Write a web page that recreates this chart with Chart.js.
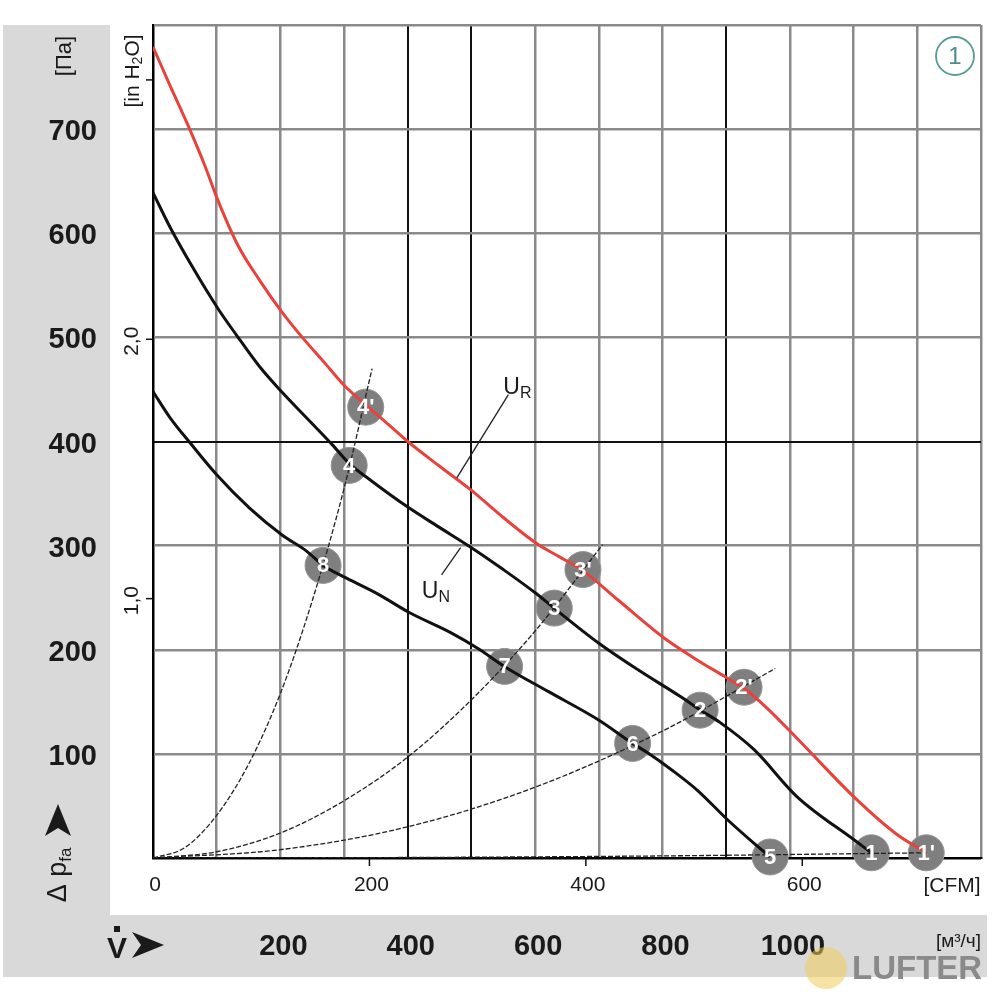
<!DOCTYPE html>
<html><head><meta charset="utf-8">
<script src="https://cdn.jsdelivr.net/npm/chart.js@4.4.1/dist/chart.umd.min.js"></script>
<style>html,body{margin:0;padding:0;background:#fff;}canvas{display:block;}</style>
</head><body>
<canvas id="c" width="1000" height="1000"></canvas>
<script>
// ---- Data (flow in m³/h, pressure in Pa) ----
const urQ = [0, 26.6, 54.7, 81.3, 101.6, 132.8, 167.2, 201.6, 234.4, 268.8, 300, 334.4, 370.3, 400, 448.4, 500, 550, 604.7, 639, 675, 729.7, 803, 854.7, 898.4, 929.7, 964, 1011, 1105, 1167, 1214];
const urP = [779, 742, 704, 665, 632, 589, 555, 525, 500, 476, 454, 435, 416, 400, 377, 353, 327, 301, 289, 276, 248, 211, 190, 174, 162, 144, 115, 56, 23, 5];

const unQ = [0, 26.6, 62.5, 101.6, 131.3, 167.2, 203.1, 240.6, 281.3, 307.8, 339, 400, 448.4, 500, 550, 601.6, 629.7, 698.4, 760.9, 828.1, 859.4, 890.6, 943.8, 1010.9, 1101.6, 1128];
const unP = [639, 606, 567, 528, 502, 472, 447, 423, 397, 379, 364, 337, 318, 298, 277, 254, 240, 207, 181, 155, 142, 130, 104, 59, 17, 5];

const lowQ = [0, 26.6, 57.8, 100, 151.6, 203.1, 240.6, 267.2, 303.1, 354.7, 401.6, 468.8, 510.9, 551.6, 620.3, 698.4, 753.1, 776.6, 815.6, 854.7, 901.6, 943.8, 968.8];
const lowP = [448, 423, 399, 368, 336, 310, 295, 281, 269, 253, 236, 216, 201, 184, 160, 133, 110, 101, 84, 65, 37, 14, 1];

// system (resistance) curves
const sysAQ = [0, 50, 100, 150, 200, 250, 300, 344];
const sysAP = [0, 10, 41, 90, 158, 247, 355, 470];
const sysBQ = [0, 100, 200, 300, 400, 500, 600, 706];
const sysBP = [0, 6, 24, 55, 97, 152, 218, 301];
const sysCQ = [0, 200, 400, 600, 800, 977];
const sysCP = [0, 8, 30, 68, 122, 182];
const sysDQ = [0, 400, 800, 1214];
const sysDP = [0, 0.5, 2, 5];

// operating point markers
const markerLabels = ["4'", "3'", "2'", "1'", "4", "3", "2", "1", "8", "7", "6", "5"];
const markerQ = [334, 675, 928, 1214, 308, 630, 859, 1128, 267, 552, 753, 969];
const markerP = [433, 277, 164, 5, 377, 240, 142, 5, 281, 184, 110, 1];

// curve name leader lines
const leaderURQ = [558, 477];
const leaderURP = [445, 365];
const leaderUNQ = [453, 483];
const leaderUNP = [272, 298];

// tick labels
const paTicks = [100, 200, 300, 400, 500, 600, 700];
const inH2OTicks = [1, 2, 3];
const inH2OLabels = ["1,0", "2,0", ""];
const cfmTicks = [0, 200, 400, 600];
const m3hTicks = [200, 400, 600, 800, 1000];

const PA_PER_INH2O = 249.09;
const M3H_PER_CFM = 1.699;

const xy = (qs, ps) => qs.map((q, i) => ({x: q, y: ps[i]}));

const NARROW = '"Liberation Sans Narrow", "Liberation Sans", Arial, sans-serif';
const SANS = '"Liberation Sans", Arial, sans-serif';

function rotText(c, parts, x, y) {
  c.save();
  c.translate(x, y);
  c.rotate(-Math.PI / 2);
  let total = 0;
  parts.forEach(p => { c.font = p.font; p.w = c.measureText(p.t).width; total += p.w; });
  let cx = -total / 2;
  c.textBaseline = 'middle';
  c.textAlign = 'left';
  parts.forEach(p => { c.font = p.font; c.fillText(p.t, cx, p.dy || 0); cx += p.w; });
  c.restore();
}

const deco = {
  id: 'deco',
  beforeDraw(chart) {
    const c = chart.ctx;
    c.save();
    c.fillStyle = '#ffffff';
    c.fillRect(0, 0, 1000, 1000);
    c.fillStyle = '#d9d9d9';
    c.fillRect(3, 25, 107, 952);
    c.fillRect(3, 915, 984, 62);
    c.restore();
  },
  afterDraw(chart) {
    const c = chart.ctx;
    const xs = chart.scales.x, ys = chart.scales.y;
    c.save();
    c.fillStyle = '#1a1a1a';
    c.strokeStyle = '#111';

    // Pa labels
    c.font = 'bold 29px ' + SANS;
    c.textAlign = 'right';
    c.textBaseline = 'middle';
    paTicks.forEach(v => c.fillText(String(v), 97, ys.getPixelForValue(v) + 3));

    // [Па]
    rotText(c, [{t: '[Па]', font: '22px ' + SANS}], 65, 56);

    // [in H2O]
    rotText(c, [{t: '[in H', font: '21px ' + NARROW}, {t: '2', font: '14px ' + NARROW, dy: 5}, {t: 'O]', font: '21px ' + NARROW}], 133, 71);

    // in H2O ticks
    c.lineWidth = 1.5;
    inH2OTicks.forEach((v, i) => {
      const py = ys.getPixelForValue(v * PA_PER_INH2O);
      c.beginPath(); c.moveTo(146, py); c.lineTo(153, py); c.stroke();
      if (inH2OLabels[i]) rotText(c, [{t: inH2OLabels[i], font: '21px ' + NARROW}], 132, py + 2);
    });

    // Δ p_fa arrow label
    c.fillStyle = '#1a1a1a';
    rotText(c, [{t: 'Δ ', font: '27px ' + SANS}, {t: 'p', font: '27px ' + SANS}, {t: 'fa', font: '17px ' + SANS, dy: 7}], 59, 875);
    c.beginPath();
    c.moveTo(58, 804); c.lineTo(71, 836); c.lineTo(58, 828); c.lineTo(45, 836); c.closePath(); c.fill();

    // V dot arrow
    c.font = 'bold 30px ' + NARROW;
    c.textAlign = 'center';
    c.textBaseline = 'alphabetic';
    c.fillText('V', 117, 958);
    c.fillRect(114, 926, 6, 6);
    c.beginPath();
    c.moveTo(164, 945); c.lineTo(132, 932); c.lineTo(141, 945); c.lineTo(132, 958); c.closePath(); c.fill();

    // m³/h labels
    c.font = 'bold 29px ' + SANS;
    c.textAlign = 'center';
    c.textBaseline = 'middle';
    m3hTicks.forEach(v => c.fillText(String(v), xs.getPixelForValue(v) + 3, 947));
    c.font = '19px ' + NARROW;
    c.textAlign = 'right';
    c.fillText('[м³/ч]', 981, 942);

    // CFM ticks/labels
    c.font = '21px ' + NARROW;
    c.textAlign = 'center';
    c.lineWidth = 1.5;
    cfmTicks.forEach(v => {
      const px = xs.getPixelForValue(v * M3H_PER_CFM);
      if (v > 0) { c.beginPath(); c.moveTo(px, 858); c.lineTo(px, 866); c.stroke(); }
      c.fillText(String(v), px + 2, 885);
    });
    c.fillText('[CFM]', 952, 886);

    // UR / UN labels
    const lbl = (main, sub, q, p) => {
      const px = xs.getPixelForValue(q), py = ys.getPixelForValue(p);
      c.textAlign = 'left'; c.textBaseline = 'alphabetic';
      c.font = '23px ' + NARROW;
      c.fillText(main, px, py);
      const w = c.measureText(main).width;
      c.font = '16px ' + NARROW;
      c.fillText(sub, px + w, py + 4);
    };
    lbl('U', 'R', 550, 446);
    lbl('U', 'N', 422, 250);

    // marker numbers
    c.fillStyle = '#ffffff';
    c.font = 'bold 22px ' + SANS;
    c.textAlign = 'center';
    c.textBaseline = 'middle';
    markerLabels.forEach((t, i) => {
      c.fillText(t, xs.getPixelForValue(markerQ[i]), ys.getPixelForValue(markerP[i]) + 1);
    });

    // circled 1
    c.strokeStyle = '#5a9a95';
    c.lineWidth = 1.8;
    c.beginPath(); c.arc(955, 56, 19, 0, Math.PI * 2); c.stroke();
    c.fillStyle = '#4e8d88';
    c.font = '24px ' + SANS;
    c.fillText('1', 955, 57);

    // LUFTER mark
    c.fillStyle = 'rgba(240, 205, 90, 0.55)';
    c.beginPath(); c.arc(826, 968, 21, 0, Math.PI * 2); c.fill();
    c.fillStyle = '#8a8a8a';
    c.font = 'bold 33px ' + SANS;
    c.textAlign = 'left';
    c.fillText('LUFTER', 852, 970);
    c.restore();
  }
};

const gridColor = (blackVals) => (ctx) => {
  const v = ctx.tick ? ctx.tick.value : null;
  if (v === 0) return '#000';
  return blackVals.includes(v) ? '#111' : '#8a8a8a';
};
const gridWidth = (blackVals) => (ctx) => {
  const v = ctx.tick ? ctx.tick.value : null;
  return blackVals.includes(v) ? 2 : 2.5;
};

const sysStyle = {borderColor: '#222', borderWidth: 1.3, borderDash: [5, 2], pointRadius: 0, showLine: true, cubicInterpolationMode: 'monotone', fill: false};
const leaderStyle = {borderColor: '#222', borderWidth: 1.3, pointRadius: 0, showLine: true, fill: false};
const mainStyle = {borderWidth: 3, pointRadius: 0, showLine: true, cubicInterpolationMode: 'monotone', fill: false};

new Chart(document.getElementById('c'), {
  type: 'scatter',
  data: {
    datasets: [
      Object.assign({label: 'sysA', data: xy(sysAQ, sysAP)}, sysStyle),
      Object.assign({label: 'sysB', data: xy(sysBQ, sysBP)}, sysStyle),
      Object.assign({label: 'sysC', data: xy(sysCQ, sysCP)}, sysStyle),
      Object.assign({label: 'sysD', data: xy(sysDQ, sysDP)}, sysStyle),
      Object.assign({label: 'leaderUR', data: xy(leaderURQ, leaderURP)}, leaderStyle),
      Object.assign({label: 'leaderUN', data: xy(leaderUNQ, leaderUNP)}, leaderStyle),
      Object.assign({label: 'low', data: xy(lowQ, lowP), borderColor: '#111'}, mainStyle),
      Object.assign({label: 'UN', data: xy(unQ, unP), borderColor: '#111'}, mainStyle),
      Object.assign({label: 'UR', data: xy(urQ, urP), borderColor: '#e8423c'}, mainStyle),
      {label: 'markers', data: xy(markerQ, markerP), showLine: false, pointRadius: 18, pointHoverRadius: 18,
       pointBackgroundColor: '#7f7f7f', pointBorderColor: '#959595', pointBorderWidth: 1, clip: false}
    ]
  },
  options: {
    responsive: false,
    animation: false,
    events: [],
    layout: {padding: {left: 153, top: 25, right: 15, bottom: 142}},
    plugins: {legend: {display: false}, tooltip: {enabled: false}},
    scales: {
      x: {type: 'linear', min: 0, max: 1300,
          ticks: {stepSize: 100, display: false},
          grid: {color: gridColor([400, 500, 900]), lineWidth: gridWidth([400, 500, 900]), drawTicks: false},
          border: {display: true, color: '#000', width: 2}},
      y: {type: 'linear', min: 0, max: 800,
          ticks: {stepSize: 100, display: false},
          grid: {color: gridColor([400]), lineWidth: gridWidth([400]), drawTicks: false},
          border: {display: true, color: '#000', width: 2}}
    }
  },
  plugins: [deco]
});
</script>
</body></html>
